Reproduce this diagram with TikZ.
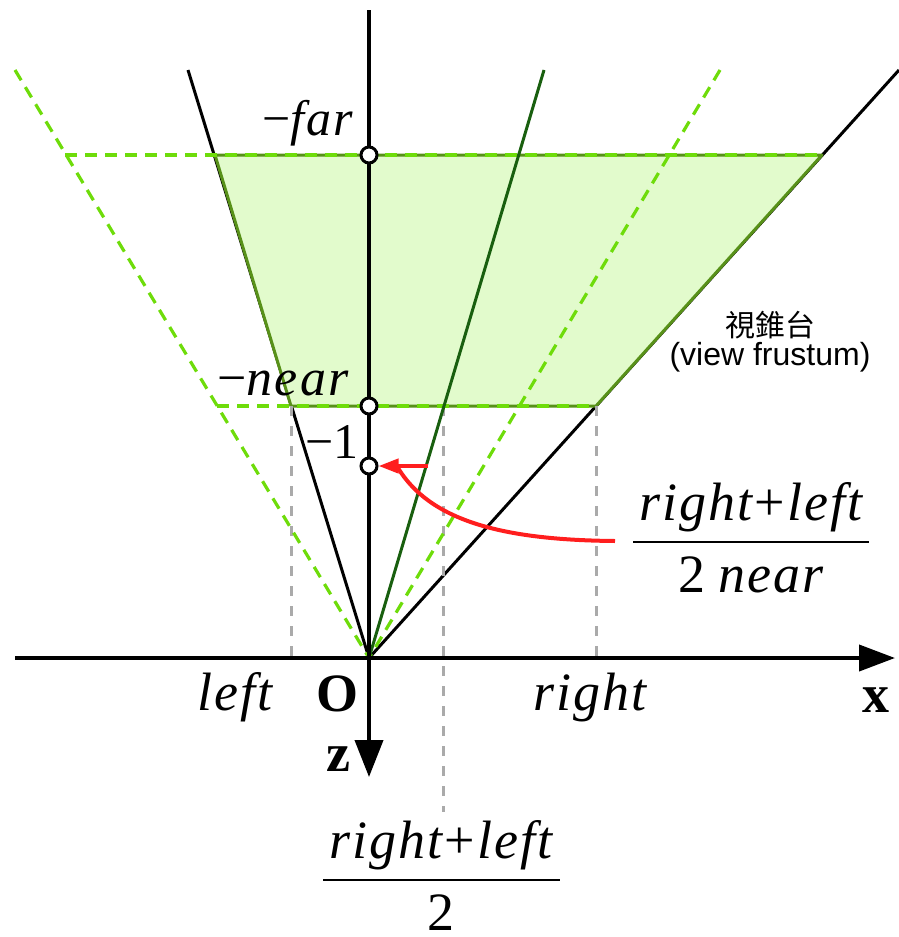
\documentclass[tikz,border=0pt]{standalone}
\usepackage{fontspec}
\setmainfont{Liberation Serif}[ItalicFont={Liberation Serif Italic}, BoldFont={Liberation Serif Bold}]
\newfontfamily\itfnt{Liberation Serif Italic}[LetterSpace=4]
\newfontfamily\sansfnt{Liberation Sans}
\newfontfamily\cjkfnt{Noto Sans CJK TC}
\usetikzlibrary{arrows.meta}
\definecolor{fillg}{RGB}{226,251,204}
\definecolor{edgeg}{RGB}{88,145,25}
\definecolor{dashg}{RGB}{110,220,10}
\definecolor{darkg}{RGB}{25,95,15}
\definecolor{grayd}{RGB}{170,170,170}
\definecolor{redc}{RGB}{255,30,30}
\newcommand\setfsz[1]{\fontsize{#1}{#1}\selectfont}
\begin{document}
\begin{tikzpicture}[x=1pt,y=-1pt,
  blackline/.style={black, line width=3pt},
  greendash/.style={dashg, line width=3.2pt, dash pattern=on 12pt off 8pt},
  graydash/.style={grayd, line width=3pt, dash pattern=on 10pt off 10pt},
  axis/.style={black, line width=4pt},
  ptnode/.style={circle, draw=black, fill=white, line width=3pt, minimum size=16pt, inner sep=0pt},
  redline/.style={redc, line width=4pt},
  lab/.style={inner sep=0pt, anchor=base},
]
\useasboundingbox (0,0) rectangle (898,937);
% key coordinates
\coordinate (O) at (369,658);
\coordinate (Ltop) at (188,70);
\coordinate (Rtop) at (899,70);
\coordinate (Ctop) at (544,70);
\coordinate (DLtop) at (15,70);
\coordinate (DRtop) at (720,70);
\coordinate (F1) at (215,155);
\coordinate (F2) at (822,155);
\coordinate (N1) at (291,406);
\coordinate (N2) at (596,406);
\coordinate (NL) at (217,406);
\coordinate (FL) at (65,155);
\coordinate (Cn) at (443,406);
\coordinate (Cb) at (443,812);
\coordinate (Lb) at (291,658);
\coordinate (Rb) at (596,658);
\coordinate (xs) at (15,658);
\coordinate (xe) at (895,658);
\coordinate (zs) at (369,10);
\coordinate (ze) at (369,777);
\coordinate (rs) at (428,466);
\coordinate (cs) at (615,541);
\coordinate (ce) at (398,468);

% black frustum side lines
\draw[blackline] (O) -- (Ltop);
\draw[blackline] (O) -- (Rtop);
% frustum fill
\draw[fill=fillg, draw=edgeg, line width=3pt, line join=round] (F1) -- (F2) -- (N2) -- (N1) -- cycle;
% gray dashed verticals
\draw[graydash] (N1) -- (Lb);
\draw[graydash] (N2) -- (Rb);
\draw[graydash] (Cn) -- (Cb);
% green dashed lines
\draw[greendash] (FL) -- (F2);
\draw[greendash] (NL) -- (N2);
\draw[greendash] (DLtop) -- (O);
\draw[greendash] (DRtop) -- (O);
% dark green center line
\draw[darkg, line width=3pt] (O) -- (Ctop);
% axes
\draw[axis, -{Triangle[length=36pt, width=26pt]}] (xs) -- (xe);
\draw[axis, -{Triangle[length=37pt, width=28pt]}] (zs) -- (ze);
% points
\node[ptnode] (Far) at (369,155) {};
\node[ptnode] (Near) at (369,406) {};
\node[ptnode] (M1) at (369,466) {};
% red arrow
\draw[redline, -{Triangle[length=20pt, width=14pt]}] (rs) -- (M1);
\draw[redline] (ce) .. controls (430,520) and (500,540) .. (cs);

% labels
\node[lab] (lfar) at (308,135) {\setfsz{50}−\itfnt far};
\node[lab] (lnear) at (283,395) {\setfsz{52}−\itfnt near};
\node[lab, anchor=base east] (lm1) at (359,458) {\setfsz{50}−1};
\node[lab] (lleft) at (235,710) {\setfsz{54}\itfnt left};
\node[lab] (lO) at (337,711) {\setfsz{54}\textbf{O}};
\node[lab] (lright) at (590,710) {\setfsz{54}\itfnt right};
\node[lab] (lx) at (876,712) {\setfsz{54}\textbf{x}};
\node[lab] (lz) at (338,771) {\setfsz{54}\textbf{z}};
% fraction 1
\node[lab] (f1n) at (441,858) {\setfsz{54}{\itfnt right}\kern2pt+\kern2pt{\itfnt left}};
\coordinate (f1a) at (323,880);
\coordinate (f1b) at (560,880);
\draw[black, line width=2.5pt] (f1a) -- (f1b);
\node[lab] (f1d) at (441,930) {\setfsz{54}2};
% fraction 2
\node[lab] (f2n) at (751,520) {\setfsz{54}{\itfnt right}\kern2pt+\kern2pt{\itfnt left}};
\coordinate (f2a) at (633,542);
\coordinate (f2b) at (869,542);
\draw[black, line width=2.5pt] (f2a) -- (f2b);
\node[lab] (f2d) at (751,592) {\setfsz{54}2 {\itfnt near}};
% frustum caption
\node[lab] (cap1) at (770,336) {\setfsz{30}\cjkfnt 視錐台};
\node[lab] (cap2) at (770,365) {\setfsz{32}\sansfnt (view frustum)};
\end{tikzpicture}
\end{document}
